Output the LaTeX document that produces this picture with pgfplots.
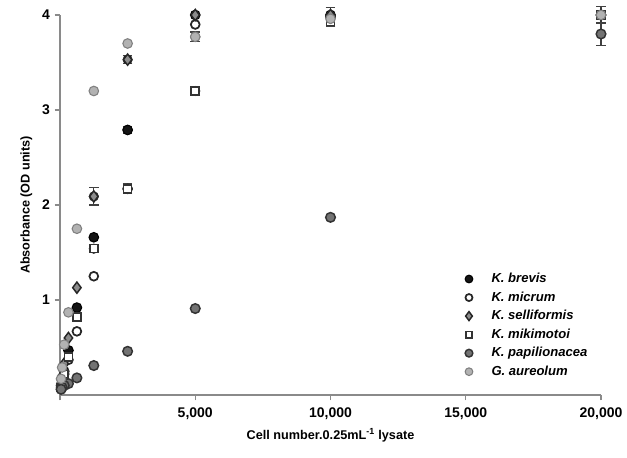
\documentclass[border=0pt]{standalone}
\usepackage{fontspec}
\setmainfont{Liberation Sans}
\usepackage{pgfplots}
\usepackage{pgfplotstable}
\pgfplotsset{compat=1.18}

\pgfplotstableread{
x y
20000 4.00
10000 4.00
5000 4.00
2500 2.79
1250 1.66
625 0.92
312 0.47
156 0.25
78 0.15
39 0.10
}\brevis
\pgfplotstableread{
x y
20000 4.00
10000 3.98
5000 3.90
2500 2.17
1250 1.25
625 0.67
312 0.37
156 0.22
78 0.13
39 0.08
}\micrum
\pgfplotstableread{
x y
20000 4.00
10000 4.00
5000 4.00
2500 3.53
1250 2.09
625 1.13
312 0.60
156 0.33
78 0.20
39 0.12
}\selliformis
\pgfplotstableread{
x y
20000 4.00
10000 3.93
5000 3.20
2500 2.17
1250 1.54
625 0.82
312 0.40
156 0.22
78 0.12
39 0.08
}\mikimotoi
\pgfplotstableread{
x y
20000 3.80
10000 1.87
5000 0.91
2500 0.46
1250 0.31
625 0.18
312 0.12
156 0.10
78 0.08
39 0.06
}\papilionacea
\pgfplotstableread{
x y
20000 4.00
10000 3.96
5000 3.77
2500 3.70
1250 3.20
625 1.75
312 0.87
156 0.53
78 0.29
39 0.17
}\aureolum
\pgfplotstableread{
x y e
20000 4.00 0.09
20000 3.80 0.12
10000 3.98 0.10
5000 3.20 0.05
5000 3.77 0.05
2500 2.17 0.05
2500 2.79 0.04
2500 3.53 0.04
1250 2.09 0.09
1250 1.54 0.04
}\errs

\definecolor{axgray}{HTML}{8A8A8A}

\begin{document}
\begin{tikzpicture}
\begin{axis}[
  scale only axis,
  width=405.75pt, height=285pt,
  xmin=0, xmax=20000, ymin=0, ymax=4,
  clip=false,
  scaled x ticks=false,
  axis lines=left,
  axis line style={draw=axgray, line width=1.1pt, -},
  every tick/.style={draw=axgray, line width=1.1pt},
  tick align=outside,
  major tick length=4pt,
  xtick={0,5000,10000,15000,20000},
  xticklabels={,{5,000},{10,000},{15,000},{20,000}},
  ytick={1,2,3,4},
  yticklabels={1,2,3,4},
  tick label style={font=\bfseries\fontsize{10.5}{12}\selectfont},
  xticklabel style={yshift=-2pt},
  xlabel={Cell number.0.25mL\textsuperscript{-1} lysate},
  ylabel={Absorbance (OD units)},
  label style={font=\bfseries\fontsize{9.5}{11}\selectfont},
  xlabel style={at={(axis description cs:0.5,-0.105)}, anchor=center},
  ylabel style={at={(axis description cs:-0.062,0.5)}, anchor=center},
  legend style={draw=none, fill=none, at={(0.741,0.335)}, anchor=north west,
    font=\bfseries\itshape\fontsize{9.8}{11}\selectfont, row sep=1.3pt,
    /tikz/every odd column/.append style={column sep=12pt}},
  legend image post style={scale=0.8},
  legend cell align=left,
  mark size=3.6pt,
]
\addplot[forget plot, only marks, mark=none, draw=black!80,
  error bars/.cd, y dir=both, y explicit,
  error bar style={line width=0.9pt, draw=black!75},
  error mark options={rotate=90, mark size=3.6pt, line width=0.9pt, draw=black!75}]
  table[x=x, y=y, y error=e] {\errs};
\addplot[only marks, mark=*, mark options={fill=black!92, draw=black, line width=0.8pt}] table[x=x,y=y] {\brevis};
\addlegendentry{K. brevis}
\addplot[only marks, mark=*, mark options={fill=white, draw=black!85, line width=1.3pt}, mark size=3.3pt] table[x=x,y=y] {\micrum};
\addlegendentry{K. micrum}
\addplot[only marks, mark=diamond*, mark options={fill=black!45, draw=black!85, line width=1.1pt}, mark size=4.2pt] table[x=x,y=y] {\selliformis};
\addlegendentry{K. selliformis}
\addplot[only marks, mark=square*, mark options={fill=white, draw=black!80, line width=1.2pt}, mark size=3.0pt] table[x=x,y=y] {\mikimotoi};
\addlegendentry{K. mikimotoi}
\addplot[only marks, mark=*, mark options={fill=black!55, draw=black!80, line width=1.1pt}] table[x=x,y=y] {\papilionacea};
\addlegendentry{K. papilionacea}
\addplot[only marks, mark=*, mark options={fill=black!30, draw=black!50, line width=0.8pt}] table[x=x,y=y] {\aureolum};
\addlegendentry{G. aureolum}
\coordinate (O) at (rel axis cs:0,0);
\coordinate (T) at (rel axis cs:1,1);
\end{axis}
\pgfresetboundingbox
\path[use as bounding box] ([xshift=-45pt,yshift=-47.25pt]O) rectangle ([xshift=19.5pt,yshift=11.25pt]T);
\end{tikzpicture}
\end{document}
